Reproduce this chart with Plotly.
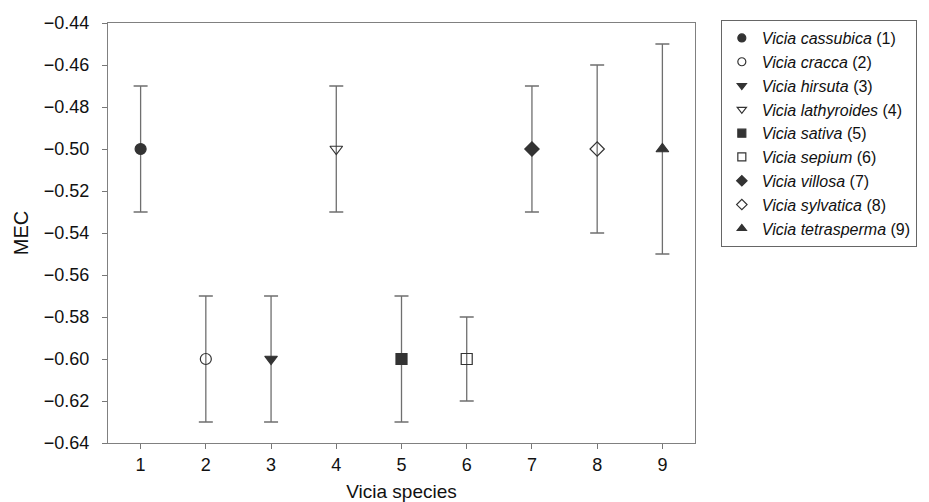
import plotly.graph_objects as go

species = ["Vicia cassubica", "Vicia cracca", "Vicia hirsuta", "Vicia lathyroides",
           "Vicia sativa", "Vicia sepium", "Vicia villosa", "Vicia sylvatica", "Vicia tetrasperma"]
x_vals = [1, 2, 3, 4, 5, 6, 7, 8, 9]
mec_mean = [-0.50, -0.60, -0.60, -0.50, -0.60, -0.60, -0.50, -0.50, -0.50]
mec_err = [0.03, 0.03, 0.03, 0.03, 0.03, 0.02, 0.03, 0.04, 0.05]
symbols = ["circle", "circle-open", "triangle-down", "triangle-down-open",
           "square", "square-open", "diamond", "diamond-open", "triangle-up"]
y_ticks = [-0.44, -0.46, -0.48, -0.50, -0.52, -0.54, -0.56, -0.58, -0.60, -0.62, -0.64]

fig = go.Figure()
for i, name in enumerate(species):
    fig.add_trace(go.Scatter(
        x=[x_vals[i]], y=[mec_mean[i]], mode="markers", showlegend=False,
        marker=dict(symbol=symbols[i], size=11, color="#333333",
                    line=dict(color="#333333", width=1.2)),
        error_y=dict(type="data", array=[mec_err[i]], visible=True,
                     color="#6f6f6f", thickness=1.3, width=7),
    ))
# legend entries with smaller symbols
for i, name in enumerate(species):
    fig.add_trace(go.Scatter(
        x=[None], y=[None], mode="markers",
        name=f"<i>{name}</i> ({x_vals[i]})",
        marker=dict(symbol=symbols[i], size=8, color="#333333",
                    line=dict(color="#333333", width=1.2)),
    ))

fig.update_layout(
    width=929, height=502,
    margin=dict(l=100, r=242, t=15, b=67, autoexpand=False),
    paper_bgcolor="white", plot_bgcolor="white",
    font=dict(family="Liberation Sans, Arial, sans-serif", size=18, color="#111111"),
    showlegend=True,
    legend=dict(x=1.044, y=1.007, xanchor="left", yanchor="top",
                bordercolor="#666666", borderwidth=1,
                font=dict(size=16), tracegroupgap=0, itemwidth=30,
                bgcolor="white"),
)
fig.update_xaxes(range=[0.5, 9.5], tickvals=x_vals, ticks="outside", ticklen=5,
                 tickcolor="#777777", showline=True, linecolor="#808080", linewidth=1.2,
                 mirror=True, showgrid=False, zeroline=False, ticklabelstandoff=0,
                 tickfont=dict(size=18), automargin=False,
                 title=dict(text="Vicia species", font=dict(size=19), standoff=10))
fig.update_yaxes(range=[-0.64, -0.44], tickvals=y_ticks, tickformat=".2f",
                 ticks="outside", ticklen=5, tickcolor="#777777",
                 showline=True, linecolor="#808080", linewidth=1.2, mirror=True,
                 showgrid=False, zeroline=False, ticklabelstandoff=9,
                 tickfont=dict(size=18), automargin=False,
                 title=dict(text="MEC", font=dict(size=20), standoff=9))

fig.write_html("out.html")
